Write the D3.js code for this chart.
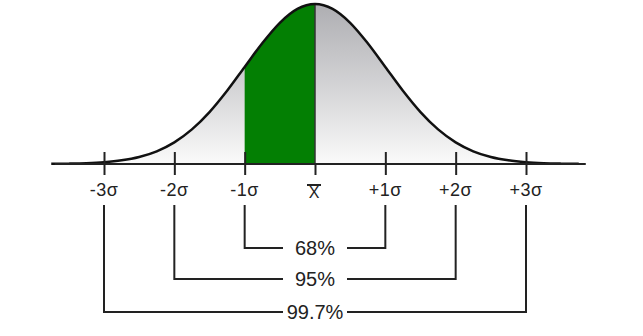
<!DOCTYPE html>
<html>
<head>
<meta charset="utf-8">
<script src="https://cdn.jsdelivr.net/npm/d3@7"></script>
<style>
  body { margin: 0; background: #fff; }
  text { font-family: 'Liberation Sans', Arial, Helvetica, sans-serif; fill: #222; }
</style>
</head>
<body>
<script>
var svgWidth = 643;
var svgHeight = 336;

// standard normal density, read at quarter-sigma steps
var zValues = [-3.75,-3.5,-3.25,-3,-2.75,-2.5,-2.25,-2,-1.75,-1.5,-1.25,-1,-0.75,-0.5,-0.25,0,
  0.25,0.5,0.75,1,1.25,1.5,1.75,2,2.25,2.5,2.75,3,3.25,3.5,3.75];
var density = [0.0004,0.0009,0.0020,0.0044,0.0091,0.0175,0.0317,0.0540,0.0863,0.1295,0.1826,0.2420,0.3011,0.3521,0.3867,0.3989,
  0.3867,0.3521,0.3011,0.2420,0.1826,0.1295,0.0863,0.0540,0.0317,0.0175,0.0091,0.0044,0.0020,0.0009,0.0004];

var tickValues = [-3,-2,-1,0,1,2,3];
var tickLabels = ['-3σ','-2σ','-1σ','X','+1σ','+2σ','+3σ'];
var bandSigmas = [1,2,3];
var bandLabels = ['68%','95%','99.7%'];
var shadedFrom = -1;
var shadedTo = 0;

var points = zValues.map(function(z,i){ return {z:z, d:density[i]}; });

var baseY = 164;
var x = d3.scaleLinear().domain([-3,3]).range([104,526]);
var y = d3.scaleLinear().domain([0,0.3989]).range([baseY,4]);

var svg = d3.select('body').append('svg')
  .attr('width',svgWidth)
  .attr('height',svgHeight)

var grad = svg.append('defs').append('linearGradient')
  .attr('id','bell')
  .attr('gradientUnits','userSpaceOnUse')
  .attr('x1',0).attr('y1',y(0.3989)).attr('x2',0).attr('y2',baseY);
grad.append('stop').attr('offset','0%').attr('stop-color','#aeaeb2');
grad.append('stop').attr('offset','55%').attr('stop-color','#d6d6d8');
grad.append('stop').attr('offset','100%').attr('stop-color','#fafafa');

var area = d3.area()
  .x(function(d){return x(d.z)})
  .y0(baseY)
  .y1(function(d){return y(d.d)})
  .curve(d3.curveMonotoneX);

var line = d3.line()
  .x(function(d){return x(d.z)})
  .y(function(d){return y(d.d)})
  .curve(d3.curveMonotoneX);

svg.append('path').datum(points)
  .attr('d',area)
  .attr('fill','url(#bell)');

// green shaded band
svg.append('path')
  .datum(points.filter(function(d){return d.z>=shadedFrom && d.z<=shadedTo}))
  .attr('d',area)
  .attr('fill','#037f03');

// mean line
svg.append('line')
  .attr('x1',x(0)).attr('x2',x(0))
  .attr('y1',y(0.3989)).attr('y2',baseY)
  .attr('stroke','#333').attr('stroke-width',1.5);

svg.append('path').datum(points)
  .attr('d',line)
  .attr('fill','none')
  .attr('stroke','#111')
  .attr('stroke-width',2.5);

// axis line
svg.append('line')
  .attr('x1',x(-3.7)).attr('x2',x(3.85))
  .attr('y1',baseY).attr('y2',baseY)
  .attr('stroke','#222').attr('stroke-width',2);

var axis = d3.axisBottom(x).tickValues(tickValues).tickSize(23).tickFormat('');
var axisG = svg.append('g')
  .attr('transform','translate(0,152)')
  .call(axis);
axisG.select('.domain').remove();
axisG.selectAll('.tick line').attr('stroke','#222').attr('stroke-width',2);
// the mean tick only shows below the axis
axisG.selectAll('.tick line').filter(function(d){return d===0}).attr('y1',12);

svg.selectAll('.tlabel').data(tickValues)
  .enter().append('text')
  .attr('class','tlabel')
  .attr('x',function(d){return d===0 ? x(d)-1 : x(d)})
  .attr('y',function(d){return d===0 ? 198 : 196})
  .attr('text-anchor','middle')
  .style('font-size',function(d){return d===0 ? '16px' : '18px'})
  .style('letter-spacing',function(d){return d===0 ? '0px' : '0.5px'})
  .text(function(d,i){return tickLabels[i]});

svg.append('line')
  .attr('x1',x(0)-8).attr('x2',x(0)+6)
  .attr('y1',185).attr('y2',185)
  .attr('stroke','#222').attr('stroke-width',2);

// brackets
var bandY = [248,279,312];
var gapLeft = 283;
var gapRight = 347;
bandSigmas.forEach(function(s,i){
  var by = bandY[i];
  svg.append('path')
    .attr('d','M'+gapLeft+','+by+'H'+x(-s)+'V205')
    .attr('fill','none').attr('stroke','#222').attr('stroke-width',2);
  svg.append('path')
    .attr('d','M'+gapRight+','+by+'H'+x(s)+'V205')
    .attr('fill','none').attr('stroke','#222').attr('stroke-width',2);
  svg.append('text')
    .attr('x',(gapLeft+gapRight)/2)
    .attr('y',by+7)
    .attr('text-anchor','middle')
    .style('font-size','20px')
    .text(bandLabels[i]);
});
</script>
</body>
</html>
